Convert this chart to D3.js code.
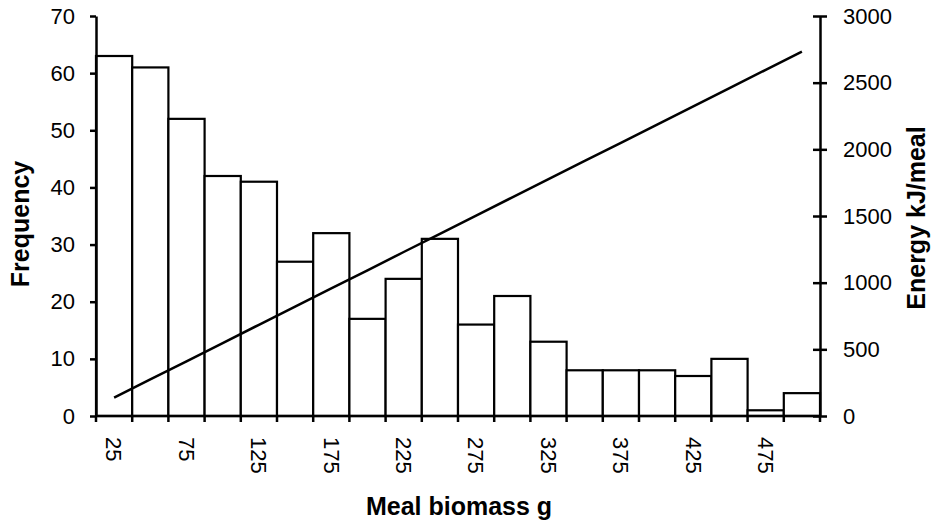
<!DOCTYPE html>
<html>
<head>
<meta charset="utf-8">
<script src="https://cdn.jsdelivr.net/npm/d3@7"></script>
<style>
  body { margin: 0; background: #fff; }
  text { font-family: "Liberation Sans", Arial, sans-serif; fill: #000; }
</style>
</head>
<body>
<svg id="chart" width="935" height="527"></svg>
<script>
// Meal biomass classes (g), frequency of meals per class, energy per meal (kJ)
const massBins = [25, 50, 75, 100, 125, 150, 175, 200, 225, 250,
                  275, 300, 325, 350, 375, 400, 425, 450, 475, 500];
const frequency = [63, 61, 52, 42, 41, 27, 32, 17, 24, 31,
                   16, 21, 13, 8, 8, 8, 7, 10, 1, 4];
const energy = [137, 274, 410, 547, 684, 820, 957, 1093, 1230, 1366,
                1503, 1640, 1776, 1913, 2049, 2186, 2322, 2459, 2596, 2732];
const massTickLabels = [25, 75, 125, 175, 225, 275, 325, 375, 425, 475];
const freqTicks = [0, 10, 20, 30, 40, 50, 60, 70];
const energyTicks = [0, 500, 1000, 1500, 2000, 2500, 3000];

const svg = d3.select("#chart");
const plotLeft = 96, plotRight = 820, plotTop = 16, plotBottom = 416;
const tickFont = 22, titleFont = 25;

const x = d3.scaleBand().domain(massBins).range([plotLeft, plotRight]).padding(0);
const yFreq = d3.scaleLinear().domain([0, 70]).range([plotBottom, plotTop]);
const yEnergy = d3.scaleLinear().domain([0, 3000]).range([plotBottom, plotTop]);
const bw = x.bandwidth();

// histogram bars
svg.append("g").selectAll("rect")
  .data(massBins)
  .join("rect")
  .attr("x", d => x(d))
  .attr("y", (d, i) => yFreq(frequency[i]))
  .attr("width", bw)
  .attr("height", (d, i) => yFreq(0) - yFreq(frequency[i]))
  .attr("fill", "#fff")
  .attr("stroke", "#000")
  .attr("stroke-width", 2.2);

// energy line
const line = d3.line()
  .x((d, i) => x(massBins[i]) + bw / 2)
  .y(d => yEnergy(d));
svg.append("path")
  .datum(energy)
  .attr("d", line)
  .attr("fill", "none")
  .attr("stroke", "#000")
  .attr("stroke-width", 2.5);

// left axis
const gl = svg.append("g")
  .attr("transform", `translate(${plotLeft},0)`)
  .call(d3.axisLeft(yFreq).tickValues(freqTicks).tickFormat(d3.format("d"))
    .tickSizeInner(6).tickSizeOuter(0).tickPadding(15));
gl.select(".domain").attr("stroke", "#000").attr("stroke-width", 2.5);
gl.selectAll(".tick line").attr("stroke", "#000").attr("stroke-width", 2.5);
gl.selectAll(".tick text").attr("font-size", tickFont).attr("font-family", "Liberation Sans, Arial, sans-serif");

// right axis, ticks crossing the axis line
const gr = svg.append("g")
  .attr("transform", `translate(${plotRight},0)`)
  .call(d3.axisRight(yEnergy).tickValues(energyTicks).tickFormat(d3.format("d"))
    .tickSizeInner(7).tickSizeOuter(0).tickPadding(16));
gr.select(".domain").attr("stroke", "#000").attr("stroke-width", 2.5);
gr.selectAll(".tick line").attr("x1", -7).attr("x2", 7).attr("stroke", "#000").attr("stroke-width", 2.5);
gr.selectAll(".tick text").attr("font-size", tickFont).attr("font-family", "Liberation Sans, Arial, sans-serif");

// bottom axis: line, ticks at class boundaries, rotated labels at class centres
const gb = svg.append("g");
gb.append("line")
  .attr("x1", plotLeft).attr("x2", plotRight)
  .attr("y1", plotBottom).attr("y2", plotBottom)
  .attr("stroke", "#000").attr("stroke-width", 2.5);
const boundaries = massBins.map(d => x(d)).concat([x(massBins[massBins.length - 1]) + bw]);
gb.selectAll("line.tick")
  .data(boundaries)
  .join("line")
  .attr("class", "tick")
  .attr("x1", d => d).attr("x2", d => d)
  .attr("y1", plotBottom).attr("y2", plotBottom + 6)
  .attr("stroke", "#000").attr("stroke-width", 2.5);
gb.selectAll("text")
  .data(massTickLabels)
  .join("text")
  .attr("transform", d => `translate(${x(d) + bw / 2},437) rotate(90)`)
  .attr("dy", "0.35em")
  .attr("text-anchor", "start")
  .attr("font-size", tickFont)
  .text(d => d);

// axis titles
svg.append("text")
  .attr("x", 459).attr("y", 515)
  .attr("text-anchor", "middle")
  .attr("font-size", titleFont).attr("font-weight", "bold")
  .text("Meal biomass g");
svg.append("text")
  .attr("transform", "translate(29,224) rotate(-90)")
  .attr("text-anchor", "middle")
  .attr("font-size", titleFont).attr("font-weight", "bold")
  .text("Frequency");
svg.append("text")
  .attr("transform", "translate(925,218) rotate(-90)")
  .attr("text-anchor", "middle")
  .attr("font-size", titleFont).attr("font-weight", "bold")
  .text("Energy kJ/meal");
</script>
</body>
</html>
